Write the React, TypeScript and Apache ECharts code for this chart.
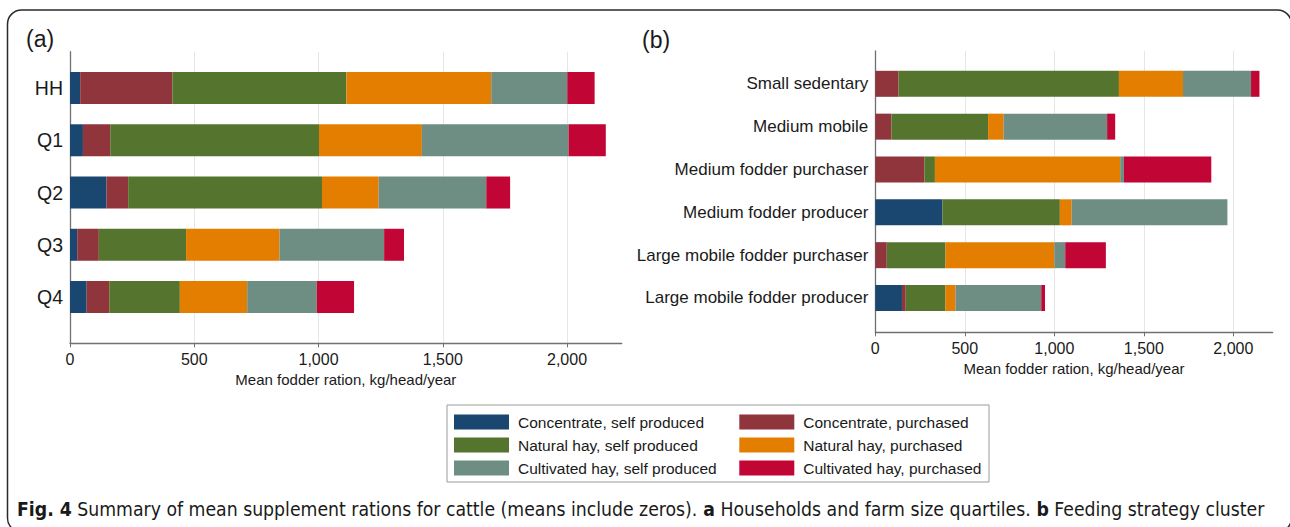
import React, { useEffect, useRef } from "react";
import * as echarts from "echarts";

const FONT = "'Liberation Sans', Arial, sans-serif";

const seriesNames = [
  "Concentrate, self produced",
  "Concentrate, purchased",
  "Natural hay, self produced",
  "Natural hay, purchased",
  "Cultivated hay, self produced",
  "Cultivated hay, purchased",
];
const seriesColors = ["#1a476f", "#90353b", "#55752f", "#e37e00", "#6e8e84", "#c10534"];

// Panel (a): households and farm size quartiles
const categoriesA = ["HH", "Q1", "Q2", "Q3", "Q4"];
const concSelfA = [41, 52, 147, 29, 67];
const concPurchA = [371, 110, 87, 87, 91];
const natSelfA = [700, 840, 780, 351, 284];
const natPurchA = [583, 414, 228, 376, 271];
const cultSelfA = [306, 590, 433, 421, 280];
const cultPurchA = [110, 150, 96, 80, 150];

// Panel (b): feeding strategy clusters
const categoriesB = [
  "Small sedentary",
  "Medium mobile",
  "Medium fodder purchaser",
  "Medium fodder producer",
  "Large mobile fodder purchaser",
  "Large mobile fodder producer",
];
const concSelfB = [0, 0, 0, 375, 0, 149];
const concPurchB = [130, 90, 274, 0, 64, 21];
const natSelfB = [1231, 540, 59, 656, 328, 222];
const natPurchB = [358, 87, 1035, 66, 608, 56];
const cultSelfB = [380, 578, 21, 870, 61, 479];
const cultPurchB = [47, 45, 488, 0, 227, 21];

const tickValues = [0, 500, 1000, 1500, 2000];
const axisMax = 2220;
const axisTitle = "Mean fodder ration, kg/head/year";

const captionBold1 = "Fig. 4";
const captionText1 = " Summary of mean supplement rations for cattle (means include zeros). ";
const captionBold2 = "a";
const captionText2 = " Households and farm size quartiles. ";
const captionBold3 = "b";
const captionText3 = " Feeding strategy cluster";

const seriesA = [concSelfA, concPurchA, natSelfA, natPurchA, cultSelfA, cultPurchA];
const seriesB = [concSelfB, concPurchB, natSelfB, natPurchB, cultSelfB, cultPurchB];

const AXIS_COLOR = "#707070";
const fmt = (v: number) => v.toLocaleString("en-US");

function frameX(gridIndex: number, labelMargin: number, nameGap: number) {
  return {
    type: "value",
    gridIndex,
    min: 0,
    max: axisMax,
    axisLine: { show: true, lineStyle: { color: AXIS_COLOR, width: 1.3 } },
    axisTick: { show: true, customValues: tickValues, length: 4, lineStyle: { color: AXIS_COLOR } },
    axisLabel: {
      customValues: tickValues,
      formatter: (v: number) => fmt(v),
      fontSize: 16,
      color: "#1a1a1a",
      fontFamily: FONT,
      margin: labelMargin,
    },
    splitLine: { show: true, lineStyle: { color: "#e6e6e6", width: 1 } },
    name: axisTitle,
    nameLocation: "middle",
    nameGap,
    nameTextStyle: { fontSize: 15, color: "#1a1a1a", fontFamily: FONT, verticalAlign: "top" },
  };
}

function frameY(gridIndex: number) {
  return {
    type: "value",
    gridIndex,
    min: 0,
    max: 1,
    axisLine: { show: true, lineStyle: { color: AXIS_COLOR, width: 1.3 } },
    axisTick: { show: false },
    axisLabel: { show: false },
    splitLine: { show: false },
  };
}

function measureCaption(fam: string, size: number) {
  const c = document.createElement("canvas");
  const ctx = c.getContext("2d");
  if (!ctx) return 1247;
  let w = 0;
  ctx.font = `bold ${size}px ${fam}`;
  w += ctx.measureText(captionBold1).width + ctx.measureText(captionBold2).width + ctx.measureText(captionBold3).width;
  ctx.font = `${size}px ${fam}`;
  w += ctx.measureText(captionText1).width + ctx.measureText(captionText2).width + ctx.measureText(captionText3).width;
  return w;
}

export default function App() {
  const ref = useRef<HTMLDivElement>(null);
  useEffect(() => {
    if (!ref.current) return;
    const chart = echarts.init(ref.current, null, { renderer: "svg" });
    const capFont = "'Liberation Sans Narrow', 'DejaVu Sans Condensed', 'Liberation Sans', sans-serif";
    const capSize = 19;
    const capWidth = measureCaption(capFont, capSize);
    const capScale = 1247 / capWidth;

    const series: any[] = [];
    seriesNames.forEach((name, i) => {
      series.push({
        type: "bar",
        name,
        stack: "a",
        xAxisIndex: 1,
        yAxisIndex: 1,
        data: seriesA[i],
        barWidth: 32,
        itemStyle: { color: seriesColors[i] },
      });
    });
    seriesNames.forEach((name, i) => {
      series.push({
        type: "bar",
        name,
        stack: "b",
        xAxisIndex: 3,
        yAxisIndex: 3,
        data: seriesB[i],
        barWidth: 26,
        itemStyle: { color: seriesColors[i] },
      });
    });

    const legendBase = {
      orient: "vertical",
      top: 414,
      itemWidth: 55,
      itemHeight: 15,
      itemGap: 7,
      icon: "rect",
      padding: 0,
      selectedMode: false,
      textStyle: { fontSize: 15.5, color: "#1a1a1a", fontFamily: FONT, lineHeight: 15, padding: [0, 0, 0, 4] },
    };

    chart.setOption({
      animation: false,
      backgroundColor: "#ffffff",
      textStyle: { fontFamily: FONT },
      grid: [
        { left: 70, top: 51.7, width: 551.7, height: 291.6, containLabel: false },
        { left: 70, top: 61.9, width: 551.7, height: 261.25, containLabel: false },
        { left: 875.3, top: 51, width: 397.4, height: 281.3, containLabel: false },
        { left: 875.3, top: 62.4, width: 397.4, height: 257, containLabel: false },
      ],
      xAxis: [
        frameX(0, 8, 24),
        { type: "value", gridIndex: 1, min: 0, max: axisMax, show: false },
        frameX(2, 8, 23),
        { type: "value", gridIndex: 3, min: 0, max: axisMax, show: false },
      ],
      yAxis: [
        frameY(0),
        {
          type: "category",
          gridIndex: 1,
          data: categoriesA,
          inverse: true,
          axisLine: { show: false },
          axisTick: { show: false },
          axisLabel: { fontSize: 19.5, color: "#1a1a1a", fontFamily: FONT, margin: 7 },
        },
        frameY(2),
        {
          type: "category",
          gridIndex: 3,
          data: categoriesB,
          inverse: true,
          axisLine: { show: false },
          axisTick: { show: false },
          axisLabel: { fontSize: 17, color: "#1a1a1a", fontFamily: FONT, margin: 7 },
        },
      ],
      legend: [
        { ...legendBase, left: 454, data: [seriesNames[0], seriesNames[2], seriesNames[4]] },
        { ...legendBase, left: 739.3, data: [seriesNames[1], seriesNames[3], seriesNames[5]] },
      ],
      series,
      graphic: [
        {
          type: "rect",
          shape: { x: 7.5, y: 10, width: 1284, height: 522, r: 14 },
          style: { fill: "none", stroke: "#2a2a2a", lineWidth: 1.5 },
          silent: true,
        },
        {
          type: "rect",
          shape: { x: 447, y: 405, width: 542, height: 77 },
          style: { fill: "none", stroke: "#9a9a9a", lineWidth: 1 },
          silent: true,
        },
        {
          type: "text",
          x: 26,
          y: 39,
          style: { text: "(a)", fontSize: 23, fontFamily: FONT, fill: "#1a1a1a", verticalAlign: "middle", align: "left" },
        },
        {
          type: "text",
          x: 642,
          y: 40,
          style: { text: "(b)", fontSize: 23, fontFamily: FONT, fill: "#1a1a1a", verticalAlign: "middle", align: "left" },
        },
        {
          type: "text",
          x: 17,
          y: 510,
          scaleX: capScale,
          style: {
            text:
              "{b|" + captionBold1 + "}" + captionText1 + "{b|" + captionBold2 + "}" + captionText2 + "{b|" + captionBold3 + "}" + captionText3,
            fontSize: capSize,
            fontFamily: capFont,
            fill: "#1a1a1a",
            verticalAlign: "middle",
            align: "left",
            rich: { b: { fontWeight: "bold", fontSize: capSize, fontFamily: capFont, fill: "#1a1a1a" } },
          },
        },
      ],
    });
    return () => chart.dispose();
  }, []);
  return (
    <div
      ref={ref}
      style={{ position: "fixed", left: 0, top: 0, width: 1290, height: 527, background: "#fff" }}
    />
  );
}
